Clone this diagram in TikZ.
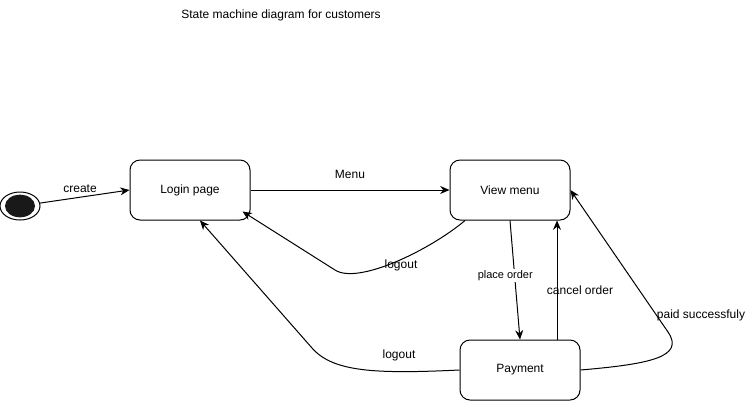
\documentclass[tikz,border=0pt]{standalone}
\usepackage{fontspec}
\setmainfont{Liberation Sans}
\usetikzlibrary{arrows.meta,calc,shapes.geometric}

\begin{document}
\begin{tikzpicture}[x=0.75pt, y=-0.75pt, line width=0.75pt,
    font=\fontsize{9}{11}\selectfont,
    state/.style={draw, rounded corners=7.5pt, minimum width=90pt, minimum height=45pt},
    trans/.style={-{Stealth[length=7pt,width=6pt]}}]
    \useasboundingbox (0,0) rectangle (756,401);

    % Title
    \node (title) at (281,15) {State machine diagram for customers};

    % Initial state
    \node[draw, ellipse, minimum width=30pt, minimum height=21pt, inner sep=0pt, outer sep=0pt] (init) at (20,206) {};
    \fill[black!90] (init.center) ellipse (11.25pt and 8.5pt);

    % States
    \node[state] (login) at (190,190) {Login page};
    \node[state] (view) at (510,190) {View menu};
    \node[state] (pay) at (520,370) {Payment};

    % Login to menu
    \draw[trans] (init) -- (login.west) node[pos=0.45, above=0pt] (lblCreate) {create};
    \draw[trans] (login) -- (view) node[midway, above=5pt] (lblMenu) {Menu};

    % Logout from menu
    \draw[trans] ($(view.south)+(-45,0)$) .. controls (430,250) and (358,285) .. (335,270)
        -- ($(login.south east)+(-8,-9)$);
    \node (lblLogoutA) at (401,265) {logout};

    % Ordering
    \draw[trans] (view.south) -- (pay.north)
        node[pos=0.46, xshift=-7pt, fill=white, inner sep=1pt, font=\fontsize{8.25}{10}\selectfont] (lblOrder) {place order};
    \draw[trans] ($(pay.north)+(37,0)$) -- ($(view.south)+(47,0)$);
    \node (lblCancel) at (580,290) {cancel order};

    % Payment done
    \draw[trans] (pay.east) .. controls (650,364) and (685,357) .. (668,332) -- (view.east);
    \node (lblPaid) at (701,315) {paid successfuly};

    % Logout from payment
    \draw[trans] (pay.west) .. controls (375,374) and (333,372) .. (312,348)
        -- ($(login.south)+(10,0)$);
    \node (lblLogoutB) at (399,355) {logout};
\end{tikzpicture}
\end{document}
